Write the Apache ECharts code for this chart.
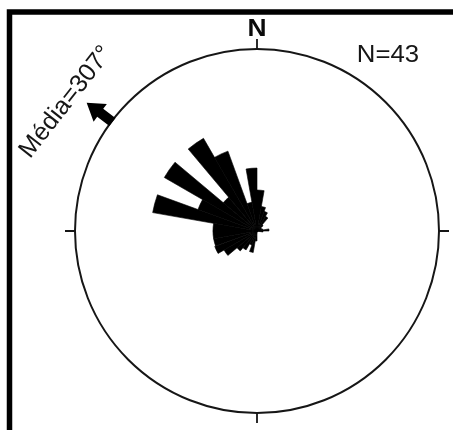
<!DOCTYPE html>
<html>
<head>
<meta charset="utf-8">
<script src="https://cdn.jsdelivr.net/npm/echarts@6/dist/echarts.min.js"></script>
<style>
  html, body { margin: 0; padding: 0; background: #ffffff; }
  #chart { width: 453px; height: 430px; }
</style>
</head>
<body>
<div id="chart"></div>
<script>
// 10-degree direction classes, clockwise from north
const binLabels = [
  '0-10', '10-20', '20-30', '30-40', '40-50', '50-60', '60-70', '70-80', '80-90',
  '90-100', '100-110', '110-120', '120-130', '130-140', '140-150', '150-160', '160-170', '170-180',
  '180-190', '190-200', '200-210', '210-220', '220-230', '230-240', '240-250', '250-260', '260-270',
  '270-280', '280-290', '290-300', '300-310', '310-320', '320-330', '330-340', '340-350', '350-360'
];

// petal length of each class (outer circle = 10)
const petalLengths = [
  2.25, 1.37, 1.15, 0.93, 0.44, 0.27, 0.27, 0.33, 0.66,
  0.33, 0, 0, 0, 0, 0, 0, 0, 0,
  0.55, 1.20, 0.82, 1.20, 1.43, 2.09, 2.47, 2.42, 2.42,
  2.42, 5.82, 3.45, 5.88, 2.42, 5.88, 4.67, 1.60, 3.46
];

const ringMax = 10;
const sampleCount = 43;
const meanDirection = 307;

const CENTER = [257, 231];
const RADIUS = 182;
const INK = '#161616';

const chart = echarts.init(document.getElementById('chart'), null, { renderer: 'canvas' });

const option = {
  backgroundColor: '#ffffff',
  animation: false,
  polar: [
    { center: CENTER, radius: RADIUS },
    { center: CENTER, radius: RADIUS }
  ],
  angleAxis: [
    {
      polarIndex: 0,
      type: 'category',
      data: binLabels,
      startAngle: 90,
      clockwise: true,
      boundaryGap: true,
      axisLine: { show: false },
      axisTick: { show: false },
      axisLabel: { show: false },
      splitLine: { show: false }
    },
    {
      polarIndex: 1,
      type: 'value',
      min: 0,
      max: 360,
      interval: 90,
      startAngle: 90,
      clockwise: true,
      axisLine: { show: true, lineStyle: { color: INK, width: 2 } },
      axisTick: { show: true, length: 10, lineStyle: { color: INK, width: 1.8 } },
      axisLabel: { show: false },
      splitLine: { show: false }
    }
  ],
  radiusAxis: [
    { polarIndex: 0, type: 'value', min: 0, max: ringMax, show: false },
    { polarIndex: 1, type: 'value', min: 0, max: 1, show: false }
  ],
  series: [
    {
      type: 'bar',
      coordinateSystem: 'polar',
      polarIndex: 0,
      data: petalLengths,
      barCategoryGap: '0%',
      itemStyle: { color: '#000000', borderColor: '#000000', borderWidth: 0.6 },
      silent: true
    },
    {
      // mean-direction arrow just outside the circle
      type: 'custom',
      coordinateSystem: 'polar',
      polarIndex: 1,
      data: [[1, meanDirection]],
      silent: true,
      renderItem: function (params, api) {
        const base = api.coord([0.995, api.value(1)]);
        const tip = api.coord([1.172, api.value(1)]);
        const dx = tip[0] - base[0], dy = tip[1] - base[1];
        const len = Math.sqrt(dx * dx + dy * dy);
        const ux = dx / len, uy = dy / len;
        const vx = -uy, vy = ux;
        const headLen = 17, headHalf = 11, shaftHalf = 5;
        const nx = tip[0] - ux * headLen, ny = tip[1] - uy * headLen;
        const pts = [
          [base[0] + vx * shaftHalf, base[1] + vy * shaftHalf],
          [nx + vx * shaftHalf, ny + vy * shaftHalf],
          [nx + vx * headHalf, ny + vy * headHalf],
          tip,
          [nx - vx * headHalf, ny - vy * headHalf],
          [nx - vx * shaftHalf, ny - vy * shaftHalf],
          [base[0] - vx * shaftHalf, base[1] - vy * shaftHalf]
        ];
        return {
          type: 'polygon',
          shape: { points: pts },
          style: { fill: '#000000' }
        };
      }
    }
  ],
  graphic: [
    {
      type: 'rect',
      shape: { x: 9.5, y: 12, width: 480, height: 460 },
      style: { fill: 'none', stroke: '#000000', lineWidth: 5.5 },
      z: 10
    },
    {
      type: 'text',
      x: 257, y: 29,
      scaleX: 1.1,
      style: {
        text: 'N',
        fill: '#0a0a0a',
        font: 'bold 24px "Liberation Sans", Arial, sans-serif',
        textAlign: 'center',
        textVerticalAlign: 'middle'
      }
    },
    {
      type: 'text',
      x: 388, y: 55.5,
      scaleX: 1.12,
      style: {
        text: 'N=' + sampleCount,
        fill: '#161616',
        font: '23px "Liberation Sans", Arial, sans-serif',
        textAlign: 'center',
        textVerticalAlign: 'middle'
      }
    },
    {
      type: 'text',
      x: 66, y: 102,
      rotation: 52 * Math.PI / 180,
      style: {
        text: 'Média=' + meanDirection + '°',
        fill: '#161616',
        font: '25px "Liberation Sans", Arial, sans-serif',
        textAlign: 'center',
        textVerticalAlign: 'middle'
      }
    }
  ]
};

chart.setOption(option);
</script>
</body>
</html>
